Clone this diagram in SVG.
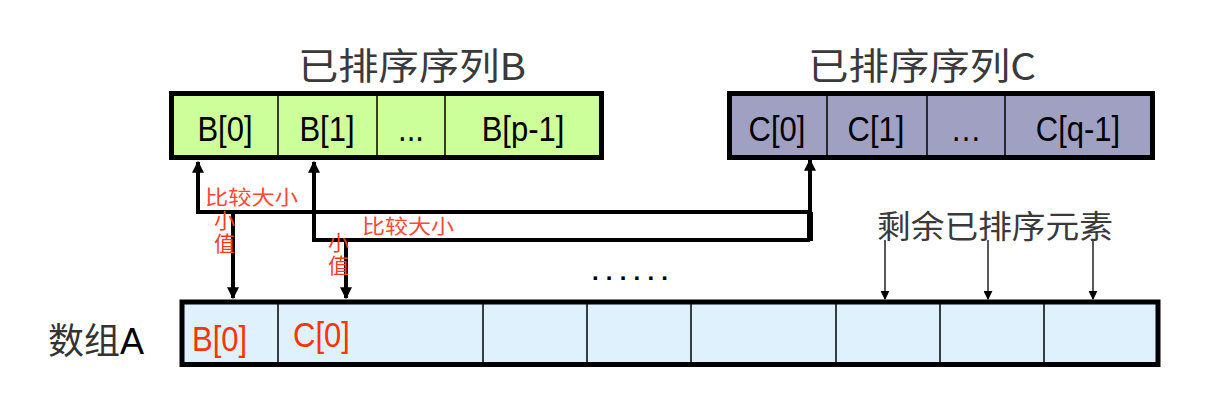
<svg xmlns="http://www.w3.org/2000/svg" width="1212" height="403" viewBox="0 0 1212 403">
<defs>
<marker id="ah" viewBox="0 0 10 10" refX="9" refY="5" markerWidth="3" markerHeight="3" orient="auto" markerUnits="strokeWidth"><path d="M0,0 L10,5 L0,10 z" fill="#000"/></marker>
<marker id="ahs" viewBox="0 0 10 10" refX="9" refY="5" markerWidth="6" markerHeight="6" orient="auto" markerUnits="strokeWidth"><path d="M0,0 L10,5 L0,10 z" fill="#000"/></marker>
</defs>
<style>
.title{font-family:"Noto Sans CJK SC","Liberation Sans",sans-serif;font-size:37px;fill:#3a3a3a}
.cell{font-family:"Liberation Sans",Arial,sans-serif;font-size:31px;fill:#000;text-anchor:middle}
.frame{stroke:#000;stroke-width:5}
.div{stroke:#000;stroke-width:1.5}
.red{font-family:"Noto Sans CJK SC",sans-serif;font-size:20px;fill:#ff4a3a}
.redv{font-family:"Noto Sans CJK SC",sans-serif;font-size:21px;fill:#ff3a20}
.conn{stroke:#000;stroke-width:4;fill:none}
.thin{stroke:#222;stroke-width:1.5;fill:none}
.ared{font-family:"Liberation Sans",sans-serif;font-size:31px;fill:#ff3300}
</style>

<g id="titleB"><text class="title" x="298" y="80" textLength="228" lengthAdjust="spacingAndGlyphs">已排序序列B</text></g>
<g id="titleC"><text class="title" x="808" y="80" textLength="228" lengthAdjust="spacingAndGlyphs">已排序序列C</text></g>

<g id="arrayB">
<rect class="frame" x="171.5" y="93.5" width="430" height="64" fill="#ccff99"/>
<line class="div" x1="278" y1="96" x2="278" y2="155"/>
<line class="div" x1="377" y1="96" x2="377" y2="155"/>
<line class="div" x1="445" y1="96" x2="445" y2="155"/>
<text class="cell" transform="translate(225,141) scale(1,1.15)">B[0]</text>
<text class="cell" transform="translate(327,141) scale(1,1.15)">B[1]</text>
<text class="cell" transform="translate(411,141) scale(1,1.15)">...</text>
<text class="cell" transform="translate(523,141) scale(1,1.15)">B[p-1]</text>
</g>

<g id="arrayC">
<rect class="frame" x="729.5" y="93.5" width="423" height="64" fill="#a0a0c2"/>
<line class="div" x1="827" y1="96" x2="827" y2="155"/>
<line class="div" x1="927" y1="96" x2="927" y2="155"/>
<line class="div" x1="1005" y1="96" x2="1005" y2="155"/>
<text class="cell" transform="translate(777,141) scale(1,1.15)">C[0]</text>
<text class="cell" transform="translate(876,141) scale(1,1.15)">C[1]</text>
<text class="cell" transform="translate(966,141) scale(1,1.15)">…</text>
<text class="cell" transform="translate(1078,141) scale(1,1.15)">C[q-1]</text>
</g>

<g id="arrayA">
<text x="48" y="354" style="font-family:'Noto Sans CJK SC',sans-serif;font-size:36px;fill:#333">数组<tspan style="font-family:'Liberation Sans',sans-serif;fill:#000">A</tspan></text>
<rect class="frame" x="182" y="302" width="976" height="62.5" fill="#dff1fd"/>
<line class="div" x1="278" y1="304" x2="278" y2="362"/>
<line class="div" x1="483" y1="304" x2="483" y2="362"/>
<line class="div" x1="587" y1="304" x2="587" y2="362"/>
<line class="div" x1="691" y1="304" x2="691" y2="362"/>
<line class="div" x1="836" y1="304" x2="836" y2="362"/>
<line class="div" x1="940" y1="304" x2="940" y2="362"/>
<line class="div" x1="1044" y1="304" x2="1044" y2="362"/>
<text class="ared" transform="translate(192,351) scale(1,1.12)">B[0]</text>
<text class="ared" transform="translate(293,347) scale(1,1.12)">C[0]</text>
</g>

<g id="connectors">
<path class="conn" d="M810,240 V212 H198 V162" marker-end="url(#ah)"/>
<path class="conn" d="M810,212 V160" marker-end="url(#ah)"/>
<path class="conn" d="M810,240 H314 V162" marker-end="url(#ah)"/>
<line x1="810" y1="212" x2="810" y2="241" stroke="#000" stroke-width="6"/>
<path class="conn" d="M233,212 V298" marker-end="url(#ah)"/>
<path class="conn" d="M346,240 V298" marker-end="url(#ah)"/>
<path class="thin" d="M885,240 V299" marker-end="url(#ahs)"/>
<path class="thin" d="M988,240 V299" marker-end="url(#ahs)"/>
<path class="thin" d="M1093,240 V299" marker-end="url(#ahs)"/>
</g>

<g id="labels">
<text class="red" x="205" y="205" textLength="93" lengthAdjust="spacingAndGlyphs">比较大小</text>
<text class="red" x="362" y="234" textLength="92" lengthAdjust="spacingAndGlyphs">比较大小</text>
<text class="redv" x="214" y="228">小</text>
<text class="redv" x="214" y="251">值</text>
<text class="redv" x="328" y="250">小</text>
<text class="redv" x="328" y="273">值</text>
<text x="592" y="280" style="font-family:'Liberation Sans',sans-serif;font-size:24px;font-weight:bold;fill:#000;letter-spacing:7.2px">......</text>
<text x="877" y="238" style="font-family:'Noto Sans CJK SC',sans-serif;font-size:32px;fill:#3a3a3a" textLength="236" lengthAdjust="spacingAndGlyphs">剩余已排序元素</text>
</g>
</svg>
